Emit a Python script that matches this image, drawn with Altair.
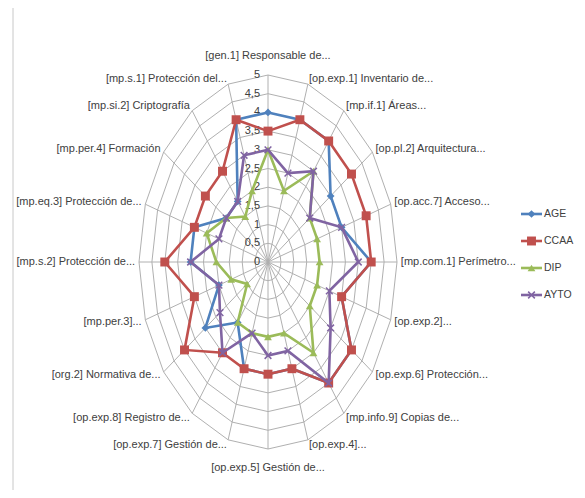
import altair as alt
import pandas as pd

categories = [
    "[gen.1] Responsable de...", "[op.exp.1] Inventario de...", "[mp.if.1] Áreas...",
    "[op.pl.2] Arquitectura...", "[op.acc.7] Acceso...", "[mp.com.1] Perímetro...",
    "[op.exp.2]...", "[op.exp.6] Protección...", "[mp.info.9] Copias de...",
    "[op.exp.4]...", "[op.exp.5] Gestión de...", "[op.exp.7] Gestión de...",
    "[op.exp.8] Registro de...", "[org.2] Normativa de...", "[mp.per.3]...",
    "[mp.s.2] Protección de...", "[mp.eq.3] Protección de...", "[mp.per.4] Formación",
    "[mp.si.2] Criptografía", "[mp.s.1] Protección del...",
]
age = [4, 4, 4, 3, 3, 4, 3, 4, 4, 3, 3, 3, 2, 3, 2, 3, 3, 2, 2, 4]
ccaa = [3.5, 4, 4, 4, 4, 4, 3, 4, 4, 3, 3, 3, 3, 4, 3, 4, 3, 3, 3, 4]
dip = [3, 2, 3, 2, 2, 2, 2, 2, 3, 2, 2, 2, 2, 1, 1.5, 2, 2.5, 2, 1.5, 2]
ayto = [3, 2.5, 3, 2, 3, 3.5, 2.5, 3, 4, 2.5, 2.5, 2, 3, 2.3, 2, 3, 2, 2, 2, 3]
series_names = ["AGE", "CCAA", "DIP", "AYTO"]
series_values = [age, ccaa, dip, ayto]
colors = ["#4F81BD", "#C0504D", "#9BBB59", "#8064A2"]
shapes = ["diamond", "square", "triangle-up", "M-1,-1L1,1M-1,1L1,-1"]
ticks = [0, 0.5, 1, 1.5, 2, 2.5, 3, 3.5, 4, 4.5, 5]
tick_labels = ["0", "0,5", "1", "1,5", "2", "2,5", "3", "3,5", "4", "4,5", "5"]

N = len(categories)
ANG = f"datum.idx * 2 * PI / {N}"
XE = f"datum.value * sin({ANG})"
YE = f"datum.value * cos({ANG})"

TXT = "#404040"
FONT = "Liberation Sans"


def X(f):
    return alt.X(f"{f}:Q", scale=alt.Scale(domain=[-5, 5], range=[131, 389], nice=False, zero=False), axis=None)


def Y(f):
    return alt.Y(f"{f}:Q", scale=alt.Scale(domain=[-5, 5], range=[441, 67], nice=False, zero=False), axis=None)


# data tables
series_df = pd.DataFrame([
    {"series": s, "idx": i, "value": vals[i % N]}
    for s, vals in zip(series_names, series_values) for i in range(N + 1)
])
ring_df = pd.DataFrame([{"level": lv, "idx": i, "value": lv} for lv in ticks[1:] for i in range(N + 1)])
spoke_df = pd.DataFrame([{"idx": i, "value": ticks[-1], "zero": 0} for i in range(N)])
label_df = pd.DataFrame([{"idx": i, "label": c} for i, c in enumerate(categories)])
tick_df = pd.DataFrame({"value": ticks, "label": tick_labels, "zero": [0] * len(ticks)})
legend_df = pd.DataFrame({"name": series_names})

layers = []

# spokes
layers.append(
    alt.Chart(spoke_df).transform_calculate(x=XE, y=YE)
    .mark_rule(color="#b0b0b0", strokeWidth=1)
    .encode(x=X("zero"), y=Y("zero"), x2="x:Q", y2="y:Q")
)
# rings
layers.append(
    alt.Chart(ring_df).transform_calculate(x=XE, y=YE)
    .mark_line(color="#b0b0b0", strokeWidth=1)
    .encode(x=X("x"), y=Y("y"), detail="level:N", order="idx:Q")
)
# tick labels
layers.append(
    alt.Chart(tick_df)
    .mark_text(align="right", baseline="middle", dx=-8, font=FONT, fontSize=11, color=TXT)
    .encode(x=X("zero"), y=Y("value"), text="label:N")
)
# category labels
lab_base = alt.Chart(label_df).transform_calculate(
    value=f"(datum.idx == 0 || datum.idx == {N // 2}) ? 5.5 : 5.15"
).transform_calculate(x=XE, y=YE)
for cond, al in [(f"datum.idx > 0 && datum.idx < {N // 2}", "left"),
                 (f"datum.idx > {N // 2}", "right"),
                 (f"datum.idx == 0 || datum.idx == {N // 2}", "center")]:
    layers.append(
        lab_base.transform_filter(cond)
        .mark_text(align=al, baseline="middle", font=FONT, fontSize=11, color=TXT)
        .encode(x=X("x"), y=Y("y"), text="label:N")
    )

# series
for s, col, shp in zip(series_names, colors, shapes):
    base = alt.Chart(series_df).transform_filter(alt.datum.series == s).transform_calculate(x=XE, y=YE)
    layers.append(
        base.mark_line(color=col, strokeWidth=2.6).encode(x=X("x"), y=Y("y"), order="idx:Q")
    )
    if shp.startswith("M"):
        pt = base.transform_filter(f"datum.idx < {N}").mark_point(
            shape=shp, filled=False, color=col, size=45, strokeWidth=1.5, opacity=1)
    else:
        pt = base.transform_filter(f"datum.idx < {N}").mark_point(
            shape=shp, filled=True, color=col, size=80 if shp == "square" else 60, opacity=1)
    layers.append(pt.encode(x=X("x"), y=Y("y")))

# legend
LY = alt.Y("name:N", scale=alt.Scale(type="point", domain=series_names, range=[206, 287], padding=0), axis=None)
for s, col, shp in zip(series_names, colors, shapes):
    lb = alt.Chart(legend_df).transform_filter(alt.datum.name == s)
    layers.append(lb.mark_rule(color=col, strokeWidth=2.6).encode(x=alt.value(513), x2=alt.value(534), y=LY))
    if shp.startswith("M"):
        lp = lb.mark_point(shape=shp, filled=False, color=col, size=45, strokeWidth=1.5, opacity=1)
    else:
        lp = lb.mark_point(shape=shp, filled=True, color=col, size=80 if shp == "square" else 60, opacity=1)
    layers.append(lp.encode(x=alt.value(523.5), y=LY))
    layers.append(lb.mark_text(align="left", baseline="middle", font=FONT, fontSize=10.5, color=TXT, dx=2)
                  .encode(x=alt.value(534), y=LY, text="name:N"))

# left edge line
layers.append(
    alt.Chart(legend_df.head(1)).mark_rule(color="#c8c8c8", strokeWidth=1)
    .encode(x=alt.value(5), y=alt.value(0), y2=alt.value(482))
)

chart = (
    alt.layer(*layers)
    .resolve_scale(x="independent", y="independent")
    .properties(width=569, height=482, padding=0, autosize="none", background="white")
    .configure_view(stroke=None)
)

chart.save("out.html", embed_options={"renderer": "svg", "actions": False})
